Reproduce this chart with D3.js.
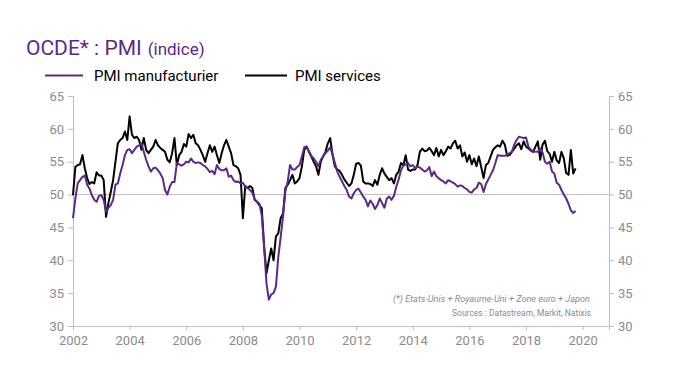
<!DOCTYPE html>
<html><head><meta charset="utf-8">
<script src="https://cdn.jsdelivr.net/npm/d3@7"></script>
<style>body{margin:0;background:#fff}svg{display:block;font-family:Roboto,"Noto Sans",sans-serif}</style>
</head><body><svg id="c" width="680" height="383"></svg>
<script>
const startYear = 2002; // first month: January 2002, monthly data
const manuf = [
46.4,49.4,51.7,52.2,52.7,52.9,51.5,50.9,49.9,49.2,48.9,49.8,
49.9,49.2,47.4,48.0,48.4,49.2,51.5,51.7,53.2,54.5,56.0,56.8,
56.9,56.3,56.8,57.3,57.5,57.8,56.5,55.3,54.3,53.5,54.0,54.1,
53.7,53.2,52.5,50.7,50.0,51.2,51.9,51.9,54.8,54.6,54.4,54.6,
55.0,54.9,55.5,55.0,54.8,54.9,54.8,54.5,54.3,53.9,53.4,53.6,
53.1,54.5,53.9,53.7,53.7,54.0,52.7,52.9,52.2,51.9,52.0,51.7,
51.8,51.2,51.0,50.7,50.3,49.3,48.9,48.6,46.8,42.0,36.5,34.0,
34.8,35.0,36.0,40.5,43.5,46.6,50.5,52.0,54.5,53.8,53.8,54.2,
54.5,55.8,57.2,57.3,56.6,55.9,55.5,55.0,54.3,55.3,55.8,56.3,
56.7,57.2,56.1,54.8,53.5,52.7,52.0,51.3,50.7,49.7,49.4,50.2,
50.7,50.9,50.3,49.7,49.2,48.2,49.1,48.6,47.8,48.4,49.4,48.7,
48.0,49.4,49.7,49.2,49.8,51.2,52.3,53.7,54.4,54.6,54.8,54.3,
54.5,54.0,54.3,54.1,53.8,53.5,53.7,54.2,52.8,53.5,52.8,52.5,
52.2,52.0,51.7,52.2,52.0,51.8,51.6,51.2,51.4,51.3,51.0,50.8,
50.4,50.3,50.8,51.0,51.8,51.6,50.4,51.6,52.3,53.0,53.7,54.8,
56.0,55.9,55.9,55.9,56.0,56.3,56.5,57.6,58.3,58.8,58.7,58.6,
58.7,57.3,56.8,56.6,56.5,56.5,57.0,56.4,55.0,54.7,55.0,53.5,
53.2,51.8,51.5,50.7,50.0,49.4,48.6,47.6,47.2,47.5];
const services = [
49.9,54.2,54.5,54.6,56.0,54.0,52.5,51.6,51.9,51.7,53.4,52.9,
52.9,52.2,46.6,48.7,50.4,52.2,55.0,57.8,58.3,58.6,59.6,58.3,
61.9,59.1,58.6,58.8,58.3,56.8,58.6,56.8,56.3,56.8,57.3,58.3,
57.5,57.1,56.8,56.5,55.3,54.9,56.3,58.6,54.5,56.0,56.5,57.7,
57.3,59.2,58.6,59.1,57.8,57.5,56.8,56.0,55.0,56.3,57.5,56.5,
57.3,56.0,54.8,56.3,57.5,58.3,57.3,56.3,54.5,54.3,54.0,53.0,
46.4,51.3,51.0,51.3,51.0,49.2,48.9,48.4,47.9,42.1,38.0,40.0,
41.8,40.0,43.6,44.1,46.4,47.1,51.0,51.5,52.2,53.0,51.7,52.0,
52.5,54.3,56.8,57.3,56.5,55.8,55.0,54.3,53.0,55.0,55.8,56.5,
57.8,58.6,56.0,54.3,53.8,53.6,53.0,52.3,51.8,51.3,51.7,53.0,
54.7,54.8,54.4,52.0,51.7,51.7,51.6,51.3,52.2,51.5,53.0,54.0,
53.2,52.7,52.2,52.5,51.7,53.0,53.5,54.8,54.4,56.0,53.8,53.6,
53.8,53.8,54.5,56.5,57.0,56.6,56.7,57.1,56.6,56.0,57.1,55.8,
56.8,56.0,56.6,57.3,57.0,57.8,58.2,57.0,57.5,55.8,56.4,55.0,
56.0,54.6,55.5,54.3,55.8,54.2,52.5,54.5,54.8,55.8,56.8,57.2,
57.5,57.3,58.2,57.6,55.9,56.0,56.5,57.0,57.5,57.8,56.9,58.1,
57.3,57.0,56.7,56.5,57.3,58.1,55.3,57.6,58.2,56.6,56.2,55.0,
56.5,55.2,54.8,56.5,55.5,53.3,53.0,56.8,53.2,54.0];
const xTicks = [2002,2004,2006,2008,2010,2012,2014,2016,2018,2020];
const yTicks = [30,35,40,45,50,55,60,65];
const seriesNames = ["PMI manufacturier","PMI services"];
const purple = "#5C2A86", black = "#000", grey = "#bfbfbf", txt = "#8c8c8c";

const svg = d3.select("#c");
const L = 73, R = 609, T = 96, B = 326;
const x = d3.scaleLinear().domain([2002, 2020.93]).range([L, R]);
const y = d3.scaleLinear().domain([30, 65]).range([B, T]);
const toPts = arr => arr.map((v,i)=>({t: startYear + i/12, v}));

// title
const title = svg.append("text").attr("x",26).attr("y",55).attr("fill",purple);
title.append("tspan").attr("font-size",21).text("OCDE* : PMI");
title.append("tspan").attr("font-size",17).attr("dx",6).text("(indice)");

// legend
[[purple,45,83,94,seriesNames[0]],[black,245,287,295,seriesNames[1]]].forEach(d=>{
  svg.append("line").attr("x1",d[1]).attr("x2",d[2]).attr("y1",75.5).attr("y2",75.5).attr("stroke",d[0]).attr("stroke-width",2);
  svg.append("text").attr("x",d[3]).attr("y",81).attr("font-size",15).attr("fill","#000").text(d[4]);
});

// axes
const gl = svg.append("g").attr("transform",`translate(${L},0)`).call(d3.axisLeft(y).tickValues(yTicks).tickSize(5).tickPadding(4));
const gr = svg.append("g").attr("transform",`translate(${R},0)`).call(d3.axisRight(y).tickValues(yTicks).tickSize(5).tickPadding(4));
const gb = svg.append("g").attr("transform",`translate(0,${B})`).call(d3.axisBottom(x).tickValues(xTicks).tickFormat(d3.format("d")).tickSize(4).tickPadding(6));
[gl,gr,gb].forEach(g=>{
  g.selectAll("path,line").attr("stroke",grey);
  g.selectAll("text").attr("fill",txt).attr("font-size",13).attr("font-family","Roboto,sans-serif");
});

// 50 line
svg.append("line").attr("x1",L).attr("x2",R).attr("y1",y(50)).attr("y2",y(50)).attr("stroke",grey).attr("stroke-width",1);

const line = d3.line().x(d=>x(d.t)).y(d=>y(d.v));
svg.append("path").datum(toPts(services)).attr("d",line).attr("fill","none").attr("stroke",black).attr("stroke-width",2).attr("stroke-linejoin","round");
svg.append("path").datum(toPts(manuf)).attr("d",line).attr("fill","none").attr("stroke",purple).attr("stroke-width",2).attr("stroke-linejoin","round");

// notes
svg.append("text").attr("x",393).attr("y",302).attr("font-size",9.8).attr("font-style","italic").attr("fill",txt)
  .attr("textLength",197).attr("lengthAdjust","spacingAndGlyphs").text("(*) Etats-Unis + Royaume-Uni + Zone euro + Japon");
svg.append("text").attr("x",452).attr("y",316).attr("font-size",9.8).attr("fill",txt)
  .attr("textLength",139).attr("lengthAdjust","spacingAndGlyphs").text("Sources : Datastream, Markit, Natixis");
</script></body></html>
